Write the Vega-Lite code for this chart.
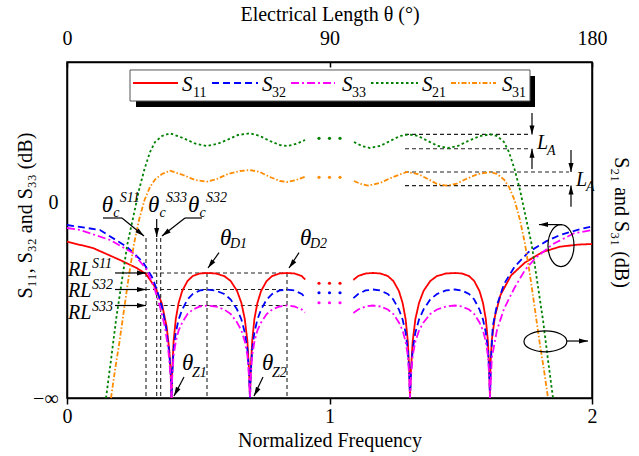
{
"$schema":"https://vega.github.io/schema/vega-lite/v6.json",
"width":525,"height":336,
"autosize":{"type":"none"},
"padding":{"left":67,"top":62,"right":47,"bottom":58},
"background":"white",
"config":{"view":{"stroke":"black","strokeWidth":1.5},"font":"Liberation Serif",
"axis":{"labelFont":"Liberation Serif","titleFont":"Liberation Serif","labelColor":"black","titleColor":"black","domainColor":"black","tickColor":"black","labelFontSize":20,"titleFontSize":20,"titleFontWeight":"normal","grid":false,"domainWidth":1.5,"tickWidth":1.5}},
"datasets":{
"curves":[
{"s":"S11","g":1,"x":0,"y":-8.51},{"s":"S11","g":1,"x":0.099,"y":-9.86},{"s":"S11","g":1,"x":0.2019,"y":-12.43},{"s":"S11","g":1,"x":0.2655,"y":-14.14},{"s":"S11","g":1,"x":0.301,"y":-15.43},{"s":"S11","g":1,"x":0.3352,"y":-18.21},{"s":"S11","g":1,"x":0.3608,"y":-21.64},{"s":"S11","g":1,"x":0.3798,"y":-26.79},{"s":"S11","g":1,"x":0.3897,"y":-31.71},{"s":"S11","g":1,"x":0.3954,"y":-37.07},{"s":"S11","g":1,"x":0.3981,"y":-42},
{"s":"S11","g":1,"x":0.4008,"y":-36.21},{"s":"S11","g":1,"x":0.4061,"y":-29.79},{"s":"S11","g":1,"x":0.4145,"y":-25.07},{"s":"S11","g":1,"x":0.4251,"y":-21.64},{"s":"S11","g":1,"x":0.4389,"y":-19.07},{"s":"S11","g":1,"x":0.459,"y":-16.93},{"s":"S11","g":1,"x":0.4792,"y":-15.86},{"s":"S11","g":1,"x":0.5063,"y":-15.32},{"s":"S11","g":1,"x":0.5333,"y":-15.21},
{"s":"S11","g":1,"x":0.5661,"y":-15.32},{"s":"S11","g":1,"x":0.5989,"y":-15.86},{"s":"S11","g":1,"x":0.6236,"y":-16.93},{"s":"S11","g":1,"x":0.648,"y":-19.07},{"s":"S11","g":1,"x":0.6644,"y":-21.64},{"s":"S11","g":1,"x":0.6773,"y":-25.07},{"s":"S11","g":1,"x":0.6872,"y":-29.79},{"s":"S11","g":1,"x":0.6937,"y":-36.21},{"s":"S11","g":1,"x":0.6971,"y":-42},
{"s":"S11","g":1,"x":0.6998,"y":-36.21},{"s":"S11","g":1,"x":0.7055,"y":-29.79},{"s":"S11","g":1,"x":0.7139,"y":-25.07},{"s":"S11","g":1,"x":0.7253,"y":-21.64},{"s":"S11","g":1,"x":0.7394,"y":-19.07},{"s":"S11","g":1,"x":0.7606,"y":-16.93},{"s":"S11","g":1,"x":0.7817,"y":-15.86},{"s":"S11","g":1,"x":0.8099,"y":-15.32},{"s":"S11","g":1,"x":0.8381,"y":-15.21},
{"s":"S11","g":1,"x":0.8663,"y":-15.32},{"s":"S11","g":1,"x":0.8945,"y":-15.86},{"s":"S11","g":1,"x":0.907,"y":-16.61},
{"s":"S11","g":2,"x":1.091,"y":-16.7},{"s":"S11","g":2,"x":1.1093,"y":-15.86},{"s":"S11","g":2,"x":1.1375,"y":-15.32},{"s":"S11","g":2,"x":1.1657,"y":-15.21},
{"s":"S11","g":2,"x":1.1939,"y":-15.32},{"s":"S11","g":2,"x":1.2221,"y":-15.86},{"s":"S11","g":2,"x":1.2432,"y":-16.93},{"s":"S11","g":2,"x":1.2644,"y":-19.07},{"s":"S11","g":2,"x":1.2785,"y":-21.64},{"s":"S11","g":2,"x":1.2899,"y":-25.07},{"s":"S11","g":2,"x":1.2983,"y":-29.79},{"s":"S11","g":2,"x":1.304,"y":-36.21},{"s":"S11","g":2,"x":1.3067,"y":-42},
{"s":"S11","g":2,"x":1.3101,"y":-36.21},{"s":"S11","g":2,"x":1.317,"y":-29.79},{"s":"S11","g":2,"x":1.3272,"y":-25.07},{"s":"S11","g":2,"x":1.341,"y":-21.64},{"s":"S11","g":2,"x":1.3581,"y":-19.07},{"s":"S11","g":2,"x":1.3838,"y":-16.93},{"s":"S11","g":2,"x":1.4095,"y":-15.86},{"s":"S11","g":2,"x":1.4438,"y":-15.32},{"s":"S11","g":2,"x":1.4781,"y":-15.21},
{"s":"S11","g":2,"x":1.5048,"y":-15.32},{"s":"S11","g":2,"x":1.5314,"y":-15.86},{"s":"S11","g":2,"x":1.5514,"y":-16.93},{"s":"S11","g":2,"x":1.5714,"y":-19.07},{"s":"S11","g":2,"x":1.5848,"y":-21.64},{"s":"S11","g":2,"x":1.5954,"y":-25.07},{"s":"S11","g":2,"x":1.6034,"y":-29.79},{"s":"S11","g":2,"x":1.6088,"y":-36.21},{"s":"S11","g":2,"x":1.6114,"y":-42},
{"s":"S11","g":2,"x":1.6133,"y":-34.93},{"s":"S11","g":2,"x":1.6183,"y":-29.57},{"s":"S11","g":2,"x":1.6305,"y":-24.43},{"s":"S11","g":2,"x":1.6514,"y":-19.93},{"s":"S11","g":2,"x":1.6914,"y":-15.75},{"s":"S11","g":2,"x":1.7448,"y":-12.96},{"s":"S11","g":2,"x":1.8118,"y":-10.71},{"s":"S11","g":2,"x":1.8781,"y":-9.58},{"s":"S11","g":2,"x":1.9467,"y":-9.13},{"s":"S11","g":2,"x":2.0,"y":-9.0},

{"s":"S32","g":1,"x":0,"y":-4.93},{"s":"S32","g":1,"x":0.0686,"y":-5.5},{"s":"S32","g":1,"x":0.1257,"y":-6.0},{"s":"S32","g":1,"x":0.2286,"y":-9.64},{"s":"S32","g":1,"x":0.2895,"y":-12.86},{"s":"S32","g":1,"x":0.3238,"y":-16.07},{"s":"S32","g":1,"x":0.3429,"y":-18.86},{"s":"S32","g":1,"x":0.3619,"y":-22.5},{"s":"S32","g":1,"x":0.3771,"y":-26.79},{"s":"S32","g":1,"x":0.3897,"y":-32.36},{"s":"S32","g":1,"x":0.3962,"y":-37.71},{"s":"S32","g":1,"x":0.3981,"y":-42},
{"s":"S32","g":1,"x":0.4008,"y":-36.96},{"s":"S32","g":1,"x":0.4061,"y":-31.61},{"s":"S32","g":1,"x":0.4145,"y":-27.96},{"s":"S32","g":1,"x":0.4251,"y":-25.18},{"s":"S32","g":1,"x":0.4389,"y":-23.04},{"s":"S32","g":1,"x":0.459,"y":-20.89},{"s":"S32","g":1,"x":0.4792,"y":-19.71},{"s":"S32","g":1,"x":0.5063,"y":-18.96},{"s":"S32","g":1,"x":0.5333,"y":-18.75},
{"s":"S32","g":1,"x":0.5661,"y":-18.96},{"s":"S32","g":1,"x":0.5989,"y":-19.71},{"s":"S32","g":1,"x":0.6236,"y":-20.89},{"s":"S32","g":1,"x":0.648,"y":-23.04},{"s":"S32","g":1,"x":0.6644,"y":-25.18},{"s":"S32","g":1,"x":0.6773,"y":-27.96},{"s":"S32","g":1,"x":0.6872,"y":-31.61},{"s":"S32","g":1,"x":0.6937,"y":-36.96},{"s":"S32","g":1,"x":0.6971,"y":-42},
{"s":"S32","g":1,"x":0.6998,"y":-36.96},{"s":"S32","g":1,"x":0.7055,"y":-31.61},{"s":"S32","g":1,"x":0.7139,"y":-27.96},{"s":"S32","g":1,"x":0.7253,"y":-25.18},{"s":"S32","g":1,"x":0.7394,"y":-23.04},{"s":"S32","g":1,"x":0.7606,"y":-20.89},{"s":"S32","g":1,"x":0.7817,"y":-19.71},{"s":"S32","g":1,"x":0.8099,"y":-18.96},{"s":"S32","g":1,"x":0.8381,"y":-18.75},
{"s":"S32","g":1,"x":0.8663,"y":-18.96},{"s":"S32","g":1,"x":0.8945,"y":-19.71},{"s":"S32","g":1,"x":0.907,"y":-20.46},
{"s":"S32","g":2,"x":1.091,"y":-20.6},{"s":"S32","g":2,"x":1.1093,"y":-19.71},{"s":"S32","g":2,"x":1.1375,"y":-18.96},{"s":"S32","g":2,"x":1.1657,"y":-18.75},
{"s":"S32","g":2,"x":1.1939,"y":-18.96},{"s":"S32","g":2,"x":1.2221,"y":-19.71},{"s":"S32","g":2,"x":1.2432,"y":-20.89},{"s":"S32","g":2,"x":1.2644,"y":-23.04},{"s":"S32","g":2,"x":1.2785,"y":-25.18},{"s":"S32","g":2,"x":1.2899,"y":-27.96},{"s":"S32","g":2,"x":1.2983,"y":-31.61},{"s":"S32","g":2,"x":1.304,"y":-36.96},{"s":"S32","g":2,"x":1.3067,"y":-42},
{"s":"S32","g":2,"x":1.3101,"y":-36.96},{"s":"S32","g":2,"x":1.317,"y":-31.61},{"s":"S32","g":2,"x":1.3272,"y":-27.96},{"s":"S32","g":2,"x":1.341,"y":-25.18},{"s":"S32","g":2,"x":1.3581,"y":-23.04},{"s":"S32","g":2,"x":1.3838,"y":-20.89},{"s":"S32","g":2,"x":1.4095,"y":-19.71},{"s":"S32","g":2,"x":1.4438,"y":-18.96},{"s":"S32","g":2,"x":1.4781,"y":-18.75},
{"s":"S32","g":2,"x":1.5048,"y":-18.96},{"s":"S32","g":2,"x":1.5314,"y":-19.71},{"s":"S32","g":2,"x":1.5514,"y":-20.89},{"s":"S32","g":2,"x":1.5714,"y":-23.04},{"s":"S32","g":2,"x":1.5848,"y":-25.18},{"s":"S32","g":2,"x":1.5954,"y":-27.96},{"s":"S32","g":2,"x":1.6034,"y":-31.61},{"s":"S32","g":2,"x":1.6088,"y":-36.96},{"s":"S32","g":2,"x":1.6114,"y":-42},
{"s":"S32","g":2,"x":1.6152,"y":-33.86},{"s":"S32","g":2,"x":1.6221,"y":-26.57},{"s":"S32","g":2,"x":1.6381,"y":-22.07},{"s":"S32","g":2,"x":1.6648,"y":-17.57},{"s":"S32","g":2,"x":1.7051,"y":-13.86},{"s":"S32","g":2,"x":1.7585,"y":-10.71},{"s":"S32","g":2,"x":1.8248,"y":-8.44},{"s":"S32","g":2,"x":1.8781,"y":-7.07},{"s":"S32","g":2,"x":1.9455,"y":-5.96},{"s":"S32","g":2,"x":2.0,"y":-5.25},

{"s":"S33","g":1,"x":0,"y":-5.57},{"s":"S33","g":1,"x":0.0495,"y":-6.0},{"s":"S33","g":1,"x":0.1638,"y":-8.14},{"s":"S33","g":1,"x":0.2514,"y":-10.93},{"s":"S33","g":1,"x":0.3048,"y":-14.57},{"s":"S33","g":1,"x":0.3352,"y":-18.86},{"s":"S33","g":1,"x":0.3543,"y":-22.5},{"s":"S33","g":1,"x":0.3733,"y":-26.79},{"s":"S33","g":1,"x":0.3859,"y":-31.71},{"s":"S33","g":1,"x":0.3943,"y":-37.07},{"s":"S33","g":1,"x":0.3981,"y":-42},
{"s":"S33","g":1,"x":0.4008,"y":-37.61},{"s":"S33","g":1,"x":0.4061,"y":-32.89},{"s":"S33","g":1,"x":0.4145,"y":-29.89},{"s":"S33","g":1,"x":0.4251,"y":-27.54},{"s":"S33","g":1,"x":0.4389,"y":-25.82},{"s":"S33","g":1,"x":0.459,"y":-24.0},{"s":"S33","g":1,"x":0.4792,"y":-23.04},{"s":"S33","g":1,"x":0.5063,"y":-22.39},{"s":"S33","g":1,"x":0.5333,"y":-22.18},
{"s":"S33","g":1,"x":0.5661,"y":-22.39},{"s":"S33","g":1,"x":0.5989,"y":-23.04},{"s":"S33","g":1,"x":0.6236,"y":-24.0},{"s":"S33","g":1,"x":0.648,"y":-25.82},{"s":"S33","g":1,"x":0.6644,"y":-27.54},{"s":"S33","g":1,"x":0.6773,"y":-29.89},{"s":"S33","g":1,"x":0.6872,"y":-32.89},{"s":"S33","g":1,"x":0.6937,"y":-37.61},{"s":"S33","g":1,"x":0.6971,"y":-42},
{"s":"S33","g":1,"x":0.6998,"y":-37.61},{"s":"S33","g":1,"x":0.7055,"y":-32.89},{"s":"S33","g":1,"x":0.7139,"y":-29.89},{"s":"S33","g":1,"x":0.7253,"y":-27.54},{"s":"S33","g":1,"x":0.7394,"y":-25.82},{"s":"S33","g":1,"x":0.7606,"y":-24.0},{"s":"S33","g":1,"x":0.7817,"y":-23.04},{"s":"S33","g":1,"x":0.8099,"y":-22.39},{"s":"S33","g":1,"x":0.8381,"y":-22.18},
{"s":"S33","g":1,"x":0.8663,"y":-22.39},{"s":"S33","g":1,"x":0.8945,"y":-23.04},{"s":"S33","g":1,"x":0.907,"y":-23.68},
{"s":"S33","g":2,"x":1.091,"y":-23.8},{"s":"S33","g":2,"x":1.1093,"y":-23.04},{"s":"S33","g":2,"x":1.1375,"y":-22.39},{"s":"S33","g":2,"x":1.1657,"y":-22.18},
{"s":"S33","g":2,"x":1.1939,"y":-22.39},{"s":"S33","g":2,"x":1.2221,"y":-23.04},{"s":"S33","g":2,"x":1.2432,"y":-24.0},{"s":"S33","g":2,"x":1.2644,"y":-25.82},{"s":"S33","g":2,"x":1.2785,"y":-27.54},{"s":"S33","g":2,"x":1.2899,"y":-29.89},{"s":"S33","g":2,"x":1.2983,"y":-32.89},{"s":"S33","g":2,"x":1.304,"y":-37.61},{"s":"S33","g":2,"x":1.3067,"y":-42},
{"s":"S33","g":2,"x":1.3101,"y":-37.61},{"s":"S33","g":2,"x":1.317,"y":-32.89},{"s":"S33","g":2,"x":1.3272,"y":-29.89},{"s":"S33","g":2,"x":1.341,"y":-27.54},{"s":"S33","g":2,"x":1.3581,"y":-25.82},{"s":"S33","g":2,"x":1.3838,"y":-24.0},{"s":"S33","g":2,"x":1.4095,"y":-23.04},{"s":"S33","g":2,"x":1.4438,"y":-22.39},{"s":"S33","g":2,"x":1.4781,"y":-22.18},
{"s":"S33","g":2,"x":1.5048,"y":-22.39},{"s":"S33","g":2,"x":1.5314,"y":-23.04},{"s":"S33","g":2,"x":1.5514,"y":-24.0},{"s":"S33","g":2,"x":1.5714,"y":-25.82},{"s":"S33","g":2,"x":1.5848,"y":-27.54},{"s":"S33","g":2,"x":1.5954,"y":-29.89},{"s":"S33","g":2,"x":1.6034,"y":-32.89},{"s":"S33","g":2,"x":1.6088,"y":-37.61},{"s":"S33","g":2,"x":1.6114,"y":-42},
{"s":"S33","g":2,"x":1.6183,"y":-33.43},{"s":"S33","g":2,"x":1.6381,"y":-27.43},{"s":"S33","g":2,"x":1.6648,"y":-22.89},{"s":"S33","g":2,"x":1.7051,"y":-18.36},{"s":"S33","g":2,"x":1.7448,"y":-14.57},{"s":"S33","g":2,"x":1.7851,"y":-12.0},{"s":"S33","g":2,"x":1.8514,"y":-9.0},{"s":"S33","g":2,"x":1.9314,"y":-6.71},{"s":"S33","g":2,"x":2.0,"y":-6.0},

{"s":"S21","g":1,"x":0.1486,"y":-42},{"s":"S21","g":1,"x":0.1676,"y":-33.86},{"s":"S21","g":1,"x":0.1867,"y":-25.29},{"s":"S21","g":1,"x":0.2095,"y":-16.71},{"s":"S21","g":1,"x":0.2301,"y":-9.0},{"s":"S21","g":1,"x":0.2552,"y":-2.49},{"s":"S21","g":1,"x":0.2743,"y":2.57},{"s":"S21","g":1,"x":0.2952,"y":7.07},{"s":"S21","g":1,"x":0.3162,"y":10.71},{"s":"S21","g":1,"x":0.3352,"y":12.86},{"s":"S21","g":1,"x":0.3619,"y":14.14},{"s":"S21","g":1,"x":0.3924,"y":14.72},{"s":"S21","g":1,"x":0.4419,"y":13.71},{"s":"S21","g":1,"x":0.4876,"y":12.54},{"s":"S21","g":1,"x":0.5333,"y":12.0},{"s":"S21","g":1,"x":0.5714,"y":12.43},{"s":"S21","g":1,"x":0.6095,"y":13.29},{"s":"S21","g":1,"x":0.6514,"y":14.36},{"s":"S21","g":1,"x":0.6971,"y":14.72},{"s":"S21","g":1,"x":0.7352,"y":14.14},{"s":"S21","g":1,"x":0.7733,"y":13.07},{"s":"S21","g":1,"x":0.8114,"y":12.21},{"s":"S21","g":1,"x":0.8381,"y":12.0},{"s":"S21","g":1,"x":0.8724,"y":12.43},{"s":"S21","g":1,"x":0.9067,"y":13.29},
{"s":"S21","g":2,"x":1.0933,"y":12.86},{"s":"S21","g":2,"x":1.1238,"y":12.0},{"s":"S21","g":2,"x":1.1543,"y":11.57},{"s":"S21","g":2,"x":1.1924,"y":12.0},{"s":"S21","g":2,"x":1.2305,"y":13.07},{"s":"S21","g":2,"x":1.2686,"y":14.14},{"s":"S21","g":2,"x":1.3029,"y":14.49},{"s":"S21","g":2,"x":1.3371,"y":14.14},{"s":"S21","g":2,"x":1.3752,"y":13.07},{"s":"S21","g":2,"x":1.4133,"y":12.0},{"s":"S21","g":2,"x":1.4514,"y":11.57},{"s":"S21","g":2,"x":1.4895,"y":12.0},{"s":"S21","g":2,"x":1.5276,"y":13.07},{"s":"S21","g":2,"x":1.5733,"y":14.14},{"s":"S21","g":2,"x":1.6137,"y":14.49},{"s":"S21","g":2,"x":1.6381,"y":14.14},{"s":"S21","g":2,"x":1.6648,"y":12.86},{"s":"S21","g":2,"x":1.6838,"y":10.71},{"s":"S21","g":2,"x":1.7048,"y":7.07},{"s":"S21","g":2,"x":1.7257,"y":2.57},{"s":"S21","g":2,"x":1.7448,"y":-2.49},{"s":"S21","g":2,"x":1.7699,"y":-9.0},{"s":"S21","g":2,"x":1.7905,"y":-16.71},{"s":"S21","g":2,"x":1.8133,"y":-25.29},{"s":"S21","g":2,"x":1.8324,"y":-33.86},{"s":"S21","g":2,"x":1.8514,"y":-42},

{"s":"S31","g":1,"x":0.1676,"y":-42},{"s":"S31","g":1,"x":0.1829,"y":-36.0},{"s":"S31","g":1,"x":0.1981,"y":-30.64},{"s":"S31","g":1,"x":0.2171,"y":-23.14},{"s":"S31","g":1,"x":0.2362,"y":-15.64},{"s":"S31","g":1,"x":0.2552,"y":-9.0},{"s":"S31","g":1,"x":0.2743,"y":-3.86},{"s":"S31","g":1,"x":0.2952,"y":0.43},{"s":"S31","g":1,"x":0.3162,"y":3.21},{"s":"S31","g":1,"x":0.3352,"y":4.82},{"s":"S31","g":1,"x":0.3619,"y":6.0},{"s":"S31","g":1,"x":0.3924,"y":6.71},{"s":"S31","g":1,"x":0.4419,"y":5.79},{"s":"S31","g":1,"x":0.4876,"y":4.71},{"s":"S31","g":1,"x":0.5333,"y":4.35},{"s":"S31","g":1,"x":0.5714,"y":4.93},{"s":"S31","g":1,"x":0.6133,"y":6.0},{"s":"S31","g":1,"x":0.659,"y":6.64},{"s":"S31","g":1,"x":0.6971,"y":6.86},{"s":"S31","g":1,"x":0.7352,"y":6.43},{"s":"S31","g":1,"x":0.7733,"y":5.36},{"s":"S31","g":1,"x":0.8114,"y":4.5},{"s":"S31","g":1,"x":0.8381,"y":4.29},{"s":"S31","g":1,"x":0.8724,"y":4.71},{"s":"S31","g":1,"x":0.9067,"y":5.42},
{"s":"S31","g":2,"x":1.0933,"y":4.5},{"s":"S31","g":2,"x":1.12,"y":3.86},{"s":"S31","g":2,"x":1.1467,"y":3.51},{"s":"S31","g":2,"x":1.1924,"y":4.07},{"s":"S31","g":2,"x":1.2419,"y":5.36},{"s":"S31","g":2,"x":1.2952,"y":6.43},{"s":"S31","g":2,"x":1.3371,"y":6.0},{"s":"S31","g":2,"x":1.3752,"y":4.93},{"s":"S31","g":2,"x":1.4095,"y":3.86},{"s":"S31","g":2,"x":1.4438,"y":3.51},{"s":"S31","g":2,"x":1.4819,"y":3.86},{"s":"S31","g":2,"x":1.52,"y":4.93},{"s":"S31","g":2,"x":1.5657,"y":6.0},{"s":"S31","g":2,"x":1.6137,"y":6.43},{"s":"S31","g":2,"x":1.6381,"y":6.0},{"s":"S31","g":2,"x":1.6648,"y":4.82},{"s":"S31","g":2,"x":1.6838,"y":3.21},{"s":"S31","g":2,"x":1.7048,"y":0.43},{"s":"S31","g":2,"x":1.7257,"y":-3.86},{"s":"S31","g":2,"x":1.7448,"y":-9.0},{"s":"S31","g":2,"x":1.7638,"y":-15.64},{"s":"S31","g":2,"x":1.7829,"y":-23.14},{"s":"S31","g":2,"x":1.8019,"y":-30.64},{"s":"S31","g":2,"x":1.8171,"y":-36.0},{"s":"S31","g":2,"x":1.8324,"y":-42}
],
"dots":[
{"s":"S21","x":0.96,"y":13.65},{"s":"S21","x":1.0,"y":13.65},{"s":"S21","x":1.04,"y":13.65},
{"s":"S31","x":0.96,"y":5.29},{"s":"S31","x":1.0,"y":5.29},{"s":"S31","x":1.04,"y":5.29},
{"s":"S11","x":0.96,"y":-17.42},{"s":"S11","x":1.0,"y":-17.42},{"s":"S11","x":1.04,"y":-17.42},
{"s":"S32","x":0.96,"y":-19.44},{"s":"S32","x":1.0,"y":-19.44},{"s":"S32","x":1.04,"y":-19.44},
{"s":"S33","x":0.96,"y":-21.58},{"s":"S33","x":1.0,"y":-21.58},{"s":"S33","x":1.04,"y":-21.58}
],
"dashed":[
{"x":0.301,"y":-7.7,"x2":0.301,"y2":-42},{"x":0.3417,"y":-7.7,"x2":0.3417,"y2":-42},{"x":0.3569,"y":-7.7,"x2":0.3569,"y2":-42},
{"x":0.301,"y":-15.21,"x2":0.8381,"y2":-15.21},{"x":0.301,"y":-18.75,"x2":0.8381,"y2":-18.75},{"x":0.3417,"y":-22.18,"x2":0.8381,"y2":-22.18},
{"x":0.5333,"y":-15.21,"x2":0.5333,"y2":-42},{"x":0.8381,"y":-15.21,"x2":0.8381,"y2":-42},
{"x":1.2876,"y":14.49,"x2":1.7638,"y2":14.49},{"x":1.2876,"y":11.42,"x2":1.7638,"y2":11.42},
{"x":1.2876,"y":6.43,"x2":1.9124,"y2":6.43},{"x":1.2876,"y":3.51,"x2":1.9124,"y2":3.51}
],
"arrows":[
{"x":0.1829,"y":-15.21,"x2":0.301,"y2":-15.21,"dir":"E"},
{"x":0.1829,"y":-18.75,"x2":0.301,"y2":-18.75,"dir":"E"},
{"x":0.1829,"y":-22.18,"x2":0.301,"y2":-22.18,"dir":"E"},
{"x":0.1371,"y":-3.43,"x2":0.2095,"y2":-3.43,"dir":"none"},
{"x":0.2095,"y":-3.43,"x2":0.2933,"y2":-7.29,"dir":"SE"},
{"x":0.3417,"y":-3.64,"x2":0.3417,"y2":-7.5,"dir":"S"},
{"x":0.4495,"y":-3.43,"x2":0.5143,"y2":-3.43,"dir":"none"},
{"x":0.4495,"y":-3.43,"x2":0.3619,"y2":-7.29,"dir":"SW1"},
{"x":0.579,"y":-10.86,"x2":0.5371,"y2":-14.14,"dir":"SW2"},
{"x":0.8838,"y":-10.86,"x2":0.8457,"y2":-14.14,"dir":"SW2"},
{"x":0.4457,"y":-37.5,"x2":0.4076,"y2":-41.57,"dir":"SW3"},
{"x":0.7467,"y":-37.5,"x2":0.7124,"y2":-41.57,"dir":"SW3"},
{"x":1.8857,"y":-4.84,"x2":1.7981,"y2":-4.84,"dir":"W"},
{"x":1.9048,"y":-29.79,"x2":1.9848,"y2":-29.79,"dir":"E"},
{"x":1.7714,"y":19.07,"x2":1.7714,"y2":14.49,"dir":"S"},
{"x":1.7714,"y":7.07,"x2":1.7714,"y2":11.42,"dir":"N"},
{"x":1.92,"y":11.14,"x2":1.92,"y2":6.43,"dir":"S"},
{"x":1.92,"y":-1.03,"x2":1.92,"y2":3.51,"dir":"N"}
],
"ellipses":[{"k":"e1","x":1.8819,"y":-9.34},{"k":"e2","x":1.8225,"y":-29.87}],
"box":[{"k":"shadow","x":0.2629,"x2":1.7829,"y":27.0,"y2":20.36},{"k":"box","x":0.24,"x2":1.7638,"y":28.29,"y2":21.64}],
"leglines":[{"s":"S11","x":0.2514,"x2":0.4229,"y":25.5},{"s":"S32","x":0.5524,"x2":0.7276,"y":25.5},{"s":"S33","x":0.8533,"x2":1.021,"y":25.5},{"s":"S21","x":1.1581,"x2":1.3371,"y":25.5},{"s":"S31","x":1.4629,"x2":1.6343,"y":25.5}],
"texts":[
{"t":"S","x":0.4381,"y":23.68,"k":"ls"},{"t":"S","x":0.7429,"y":23.68,"k":"ls"},{"t":"S","x":1.0476,"y":23.68,"k":"ls"},{"t":"S","x":1.3524,"y":23.68,"k":"ls"},{"t":"S","x":1.6571,"y":23.68,"k":"ls"},
{"t":"11","x":0.48,"y":22.5,"k":"ln"},{"t":"32","x":0.781,"y":22.5,"k":"ln"},{"t":"33","x":1.0857,"y":22.5,"k":"ln"},{"t":"21","x":1.3905,"y":22.5,"k":"ln"},{"t":"31","x":1.6952,"y":22.5,"k":"ln"},
{"t":"θ","x":0.1322,"y":-2.14,"k":"th"},{"t":"θ","x":0.3086,"y":-2.14,"k":"th"},{"t":"θ","x":0.461,"y":-2.14,"k":"th"},{"t":"θ","x":0.5829,"y":-9.21,"k":"th"},{"t":"θ","x":0.8876,"y":-9.21,"k":"th"},{"t":"θ","x":0.4381,"y":-36.0,"k":"th"},{"t":"θ","x":0.7429,"y":-36.0,"k":"th"},
{"t":"c","x":0.176,"y":-3.21,"k":"s"},{"t":"c","x":0.3524,"y":-3.21,"k":"s"},{"t":"c","x":0.5048,"y":-3.21,"k":"s"},
{"t":"D1","x":0.621,"y":-9.92,"k":"s"},{"t":"D2","x":0.9257,"y":-9.92,"k":"s"},{"t":"Z1","x":0.4762,"y":-37.5,"k":"s"},{"t":"Z2","x":0.781,"y":-37.5,"k":"s"},
{"t":"A","x":1.8286,"y":10.07,"k":"s"},{"t":"A","x":1.977,"y":2.36,"k":"s"},
{"t":"S11","x":0.2008,"y":0.0,"k":"s"},{"t":"S33","x":0.3771,"y":0.0,"k":"s"},{"t":"S32","x":0.5295,"y":0.0,"k":"s"},
{"t":"S11","x":0.0952,"y":-14.14,"k":"s"},{"t":"S32","x":0.0952,"y":-18.64,"k":"s"},{"t":"S33","x":0.0952,"y":-23.36,"k":"s"},
{"t":"RL","x":0.0038,"y":-15.86,"k":"m"},{"t":"RL","x":0.0038,"y":-20.36,"k":"m"},{"t":"RL","x":0.0038,"y":-25.07,"k":"m"},
{"t":"L","x":1.7905,"y":11.36,"k":"m"},{"t":"L","x":1.939,"y":3.43,"k":"m"}
]
},
"encoding":{
"x":{"field":"x","type":"quantitative","scale":{"domain":[0,2],"nice":false,"zero":false},"axis":null},
"y":{"field":"y","type":"quantitative","scale":{"domain":[-42,30],"nice":false,"zero":false},"axis":null}
},
"resolve":{"axis":{"x":"independent","y":"independent"}},
"layer":[
{"data":{"name":"dashed"},"mark":{"type":"rule","color":"#222222","strokeWidth":1.1,"strokeDash":[4,3]},
 "encoding":{"x2":{"field":"x2"},"y2":{"field":"y2"}}},
{"data":{"name":"curves"},"mark":{"type":"line","strokeWidth":1.8},
 "encoding":{
  "x":{"field":"x","type":"quantitative","scale":{"domain":[0,2],"nice":false,"zero":false},"axis":{"orient":"bottom","values":[0,1,2],"labelExpr":"'' + datum.value","labelOverlap":false,"labelBound":false,"labelFlush":false,"tickSize":6,"labelPadding":2,"title":"Normalized Frequency","titleY":48,"titleBaseline":"alphabetic"}},
  "y":{"field":"y","type":"quantitative","scale":{"domain":[-42,30],"nice":false,"zero":false},"axis":{"orient":"left","values":[-42,0],"labelExpr":"datum.value == 0 ? '0' : '−∞'","labelOverlap":false,"ticks":false,"tickSize":0,"labelPadding":9,"title":"S₁₁, S₃₂ and S₃₃ (dB)","titleX":-42,"titleY":153,"titleBaseline":"middle"}},
  "color":{"field":"s","type":"nominal","scale":{"domain":["S11","S32","S33","S21","S31"],"range":["#ff0000","#0000ff","#ff00ff","#008000","#ff8c00"]},"legend":null},
  "strokeDash":{"field":"s","type":"nominal","scale":{"domain":["S11","S32","S33","S21","S31"],"range":[[1,0],[7,4],[8,3,2,3],[2.5,2.5],[5,2,1.5,2]]},"legend":null},
  "detail":{"field":"g"}
 }},
{"data":{"name":"dots"},"mark":{"type":"point","filled":true,"size":10,"opacity":1},
 "encoding":{
  "x":{"field":"x","type":"quantitative","scale":{"domain":[0,2],"nice":false,"zero":false},"axis":{"orient":"top","values":[0,1,2],"labelExpr":"'' + datum.value*90","labelOverlap":false,"labelFlush":false,"tickSize":-5,"labelPadding":19,"title":"Electrical Length θ (°)","titleY":-42,"titleBaseline":"alphabetic"}},
  "y":{"field":"y","type":"quantitative","scale":{"domain":[-42,30],"nice":false,"zero":false},"axis":{"orient":"right","labels":false,"ticks":false,"title":"S₂₁ and S₃₁ (dB)","titleX":28,"titleY":160,"titleAngle":90,"titleBaseline":"middle"}},
  "color":{"field":"s","type":"nominal","scale":{"domain":["S11","S32","S33","S21","S31"],"range":["#ff0000","#0000ff","#ff00ff","#008000","#ff8c00"]},"legend":null}
 }},
{"data":{"name":"arrows"},"mark":{"type":"rule","color":"black","strokeWidth":1.2},
 "encoding":{"x2":{"field":"x2"},"y2":{"field":"y2"}}},
{"data":{"name":"arrows"},"transform":[{"filter":"datum.dir != 'none'"}],"mark":{"type":"point","filled":true,"color":"black","size":100,"opacity":1},
 "encoding":{"x":{"field":"x2","type":"quantitative","scale":{"domain":[0,2],"nice":false,"zero":false},"axis":null},
  "y":{"field":"y2","type":"quantitative","scale":{"domain":[-42,30],"nice":false,"zero":false},"axis":null},
  "shape":{"field":"dir","type":"nominal","legend":null,"scale":{"domain":["E","W","N","S","SE","SW1","SW2","SW3"],"range":["M0,0L-1.8,-0.5L-1.8,0.5Z","M0,0L1.8,0.5L1.8,-0.5Z","M0,0L-0.5,1.8L0.5,1.8Z","M0,0L0.5,-1.8L-0.5,-1.8Z","M0,0L-1.084,-1.521L-1.713,-0.744Z","M0,0L1.726,-0.715L1.11,-1.503Z","M0,0L1.463,-1.162L0.654,-1.75Z","M0,0L1.286,-1.355L0.403,-1.824Z"]}}}},
{"data":{"name":"ellipses"},"transform":[{"filter":"datum.k == 'e1'"}],"mark":{"type":"point","filled":false,"color":"black","strokeWidth":1.2,"size":1764,"opacity":1,"shape":"M0.62,0C0.62,0.5523,0.3424,1,0,1C-0.3424,1,-0.62,0.5523,-0.62,0C-0.62,-0.5523,-0.3424,-1,0,-1C0.3424,-1,0.62,-0.5523,0.62,0Z"}},
{"data":{"name":"ellipses"},"transform":[{"filter":"datum.k == 'e2'"}],"mark":{"type":"point","filled":false,"color":"black","strokeWidth":1.2,"size":1764,"opacity":1,"shape":"M1.02,0C1.02,0.2762,0.5633,0.5,0,0.5C-0.5633,0.5,-1.02,0.2762,-1.02,0C-1.02,-0.2762,-0.5633,-0.5,0,-0.5C0.5633,-0.5,1.02,-0.2762,1.02,0Z"}},
{"data":{"name":"box"},"transform":[{"filter":"datum.k == 'shadow'"}],"mark":{"type":"rect","color":"black"},
 "encoding":{"x2":{"field":"x2"},"y2":{"field":"y2"}}},
{"data":{"name":"box"},"transform":[{"filter":"datum.k == 'box'"}],"mark":{"type":"rect","fill":"white","stroke":"#555555","strokeWidth":1},
 "encoding":{"x2":{"field":"x2"},"y2":{"field":"y2"}}},
{"data":{"name":"leglines"},"mark":{"type":"rule","strokeWidth":1.8},
 "encoding":{"x2":{"field":"x2"},
  "color":{"field":"s","type":"nominal","scale":{"domain":["S11","S32","S33","S21","S31"],"range":["#ff0000","#0000ff","#ff00ff","#008000","#ff8c00"]},"legend":null},
  "strokeDash":{"field":"s","type":"nominal","scale":{"domain":["S11","S32","S33","S21","S31"],"range":[[1,0],[7,4],[8,3,2,3],[2.5,2.5],[5,2,1.5,2]]},"legend":null}}},
{"data":{"name":"texts"},"transform":[{"filter":"datum.k == 'ls'"}],"mark":{"type":"text","align":"left","baseline":"alphabetic","font":"Liberation Serif","fontStyle":"italic","fontSize":21,"color":"black"},"encoding":{"text":{"field":"t"}}},
{"data":{"name":"texts"},"transform":[{"filter":"datum.k == 'ln'"}],"mark":{"type":"text","align":"left","baseline":"alphabetic","font":"Liberation Serif","fontSize":14,"color":"black"},"encoding":{"text":{"field":"t"}}},
{"data":{"name":"texts"},"transform":[{"filter":"datum.k == 'th'"}],"mark":{"type":"text","align":"left","baseline":"alphabetic","font":"Liberation Serif","fontStyle":"italic","fontSize":23,"color":"black"},"encoding":{"text":{"field":"t"}}},
{"data":{"name":"texts"},"transform":[{"filter":"datum.k == 's'"}],"mark":{"type":"text","align":"left","baseline":"alphabetic","font":"Liberation Serif","fontStyle":"italic","fontSize":14,"color":"black"},"encoding":{"text":{"field":"t"}}},
{"data":{"name":"texts"},"transform":[{"filter":"datum.k == 'm'"}],"mark":{"type":"text","align":"left","baseline":"alphabetic","font":"Liberation Serif","fontStyle":"italic","fontSize":20,"color":"black"},"encoding":{"text":{"field":"t"}}}
]
}
